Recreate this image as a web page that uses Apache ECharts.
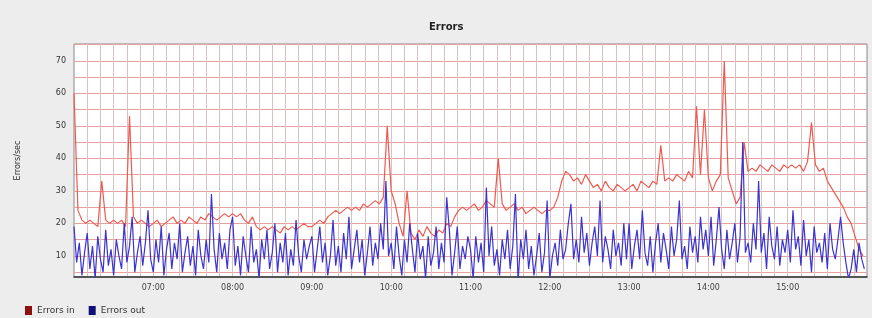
<!DOCTYPE html>
<html>
<head>
<meta charset="utf-8">
<script src="https://cdn.jsdelivr.net/npm/echarts@6/dist/echarts.min.js"></script>
<style>
  html, body { margin: 0; padding: 0; background: #ededed; }
  #chart { width: 872px; height: 318px; }
</style>
</head>
<body>
<div id="chart"></div>
<script>
  // minutes since midnight, chart spans 06:00 -> 16:00
  let startMin = 360
  let stepIn = 3   // errors in sampled every 3 min
  let stepOut = 2  // errors out sampled every 2 min

  let errorsIn = [
    60, 24, 21, 20, 21, 20, 19, 33, 21, 20, 21, 20, 21, 19, 53, 22, 20, 21, 20, 19,
    20, 21, 19, 20, 21, 22, 20, 21, 20, 22, 21, 20, 22, 21, 23, 22, 21, 22, 23, 22,
    23, 22, 23, 21, 20, 22, 19, 18, 19, 18, 19, 18, 17, 19, 18, 19, 18, 19, 20, 19,
    19, 20, 21, 20, 22, 23, 24, 23, 24, 25, 24, 25, 24, 26, 25, 26, 27, 26, 28, 50,
    30, 26, 20, 16, 30, 17, 15, 18, 16, 19, 17, 16, 18, 17, 20, 19, 22, 24, 25, 24,
    25, 26, 24, 25, 27, 26, 25, 40, 26, 24, 25, 26, 24, 25, 23, 24, 25, 24, 23, 24,
    24, 25, 28, 33, 36, 35, 33, 34, 32, 35, 33, 31, 32, 30, 33, 31, 30, 32, 31, 30,
    31, 32, 30, 33, 32, 31, 33, 32, 44, 33, 34, 33, 35, 34, 33, 36, 34, 56, 35, 55,
    34, 30, 33, 35, 70, 34, 30, 26, 28, 45, 36, 37, 36, 38, 37, 36, 38, 37, 36, 38,
    37, 38, 37, 38, 36, 39, 51, 38, 36, 37, 33, 31, 29, 27, 25, 22, 20, 16, 12, 10
  ]
  let errorsOut = [
    19, 8, 14, 4, 11, 17, 6, 13, 3, 16, 9, 5, 18, 7, 12, 4, 15, 10, 6, 20, 8, 13, 22, 5, 11, 16, 7, 14, 24, 9,
    5, 15, 8, 19, 4, 12, 17, 6, 14, 9, 20, 5, 11, 16, 7, 13, 4, 18, 10, 6, 15, 8, 29, 12, 5, 17, 9, 14, 6, 18,
    22, 7, 13, 4, 16, 10, 5, 19, 8, 12, 3, 15, 9, 18, 6, 11, 20, 5, 14, 8, 17, 4, 12, 7, 21, 10, 5, 15, 9, 13,
    16, 5, 12, 19, 8, 14, 4, 10, 21, 7, 13, 5, 17, 9, 22, 6, 12, 18, 8, 15, 4, 11, 19, 7, 14, 9, 20, 12, 33, 10,
    14, 6, 19, 10, 4, 15, 8, 20, 12, 5, 17, 9, 13, 3, 16, 7, 11, 19, 6, 14, 8, 28, 18, 4, 11, 19, 6, 13, 9, 16,
    12, 3, 16, 8, 14, 5, 31, 10, 19, 7, 12, 4, 15, 9, 18, 6, 13, 29, 2, 15, 9, 18, 6, 13, 4, 10, 17, 5, 11, 27,
    3, 10, 14, 7, 18, 9, 12, 20, 26, 9, 15, 8, 22, 11, 17, 7, 14, 19, 10, 27, 8, 16, 12, 6, 18, 10, 14, 7, 20, 9,
    20, 6, 13, 18, 9, 24, 11, 7, 16, 5, 14, 20, 8, 17, 12, 6, 19, 10, 15, 27, 9, 13, 6, 19, 11, 16, 8, 22, 12, 18,
    10, 22, 7, 15, 25, 12, 6, 18, 9, 14, 20, 8, 16, 45, 11, 14, 8, 20, 12, 33, 11, 17, 6, 22, 13, 9, 19, 7, 15, 11,
    18, 8, 24, 12, 16, 7, 21, 10, 15, 5, 19, 11, 14, 8, 17, 6, 20, 12, 9, 15, 22, 14, 8, 3, 6, 12, 5, 14, 9, 6
  ]
  let hourLabels = [420, 480, 540, 600, 660, 720, 780, 840, 900]
  let yLabels = [10, 20, 30, 40, 50, 60, 70]

  let vGrid = []
  for (let m = 370; m < 960; m += 10) vGrid.push(m)
  let hGrid = []
  for (let v = 5; v <= 75; v += 5) hGrid.push(v)

  function hhmm(m) {
    let h = Math.floor(m / 60)
    let mm = m % 60
    return (h < 10 ? '0' : '') + h + ':' + (mm < 10 ? '0' : '') + mm
  }

  let chart = echarts.init(document.getElementById('chart'))
  chart.setOption({
    backgroundColor: '#ededed',
    animation: false,
    title: {
      text: 'Errors',
      left: 424,
      top: 17,
      textStyle: { fontSize: 10, fontWeight: 'bold', color: '#222', fontFamily: 'DejaVu Sans' }
    },
    legend: {
      data: ['Errors in', 'Errors out'],
      left: 20,
      top: 301,
      itemWidth: 7,
      itemHeight: 9,
      itemGap: 14,
      icon: 'rect',
      textStyle: { fontSize: 9, color: '#333', fontFamily: 'DejaVu Sans' }
    },
    grid: {
      left: 74,
      right: 5,
      top: 44,
      bottom: 41,
      show: true,
      backgroundColor: '#ffffff',
      borderColor: '#888',
      borderWidth: 1
    },
    xAxis: {
      type: 'value',
      min: 360,
      max: 960,
      axisLine: { show: true, onZero: false, lineStyle: { color: '#333', width: 1.5 } },
      axisTick: { show: false, customValues: vGrid },
      axisLabel: {
        customValues: hourLabels,
        formatter: v => hhmm(v),
        fontSize: 8,
        color: '#444',
        margin: 7,
        fontFamily: 'DejaVu Sans'
      },
      splitLine: { show: true, lineStyle: { color: '#d9c2c2', width: 1 } }
    },
    yAxis: {
      type: 'value',
      min: 3.5,
      max: 75.2,
      name: 'Errors/sec',
      nameLocation: 'middle',
      nameGap: 52,
      nameTextStyle: { fontSize: 8, color: '#333', fontFamily: 'DejaVu Sans' },
      axisLine: { show: false },
      axisTick: { show: false, customValues: hGrid },
      axisLabel: {
        customValues: yLabels,
        fontSize: 8,
        color: '#333',
        margin: 8,
        fontFamily: 'DejaVu Sans'
      },
      splitLine: { show: true, lineStyle: { color: '#e6a0a0', width: 1 } }
    },
    series: [
      {
        name: 'Errors in',
        type: 'line',
        data: errorsIn.map((v, i) => [startMin + i * stepIn, v]),
        showSymbol: false,
        itemStyle: { color: '#8b1010' },
        lineStyle: { color: '#ee5a50', width: 1.2 },
        z: 2
      },
      {
        name: 'Errors out',
        type: 'line',
        data: errorsOut.map((v, i) => [startMin + i * stepOut, v]),
        showSymbol: false,
        itemStyle: { color: '#10107a' },
        lineStyle: { color: '#3a34d0', width: 1.2 },
        z: 3
      }
    ]
  })
</script>
</body>
</html>
